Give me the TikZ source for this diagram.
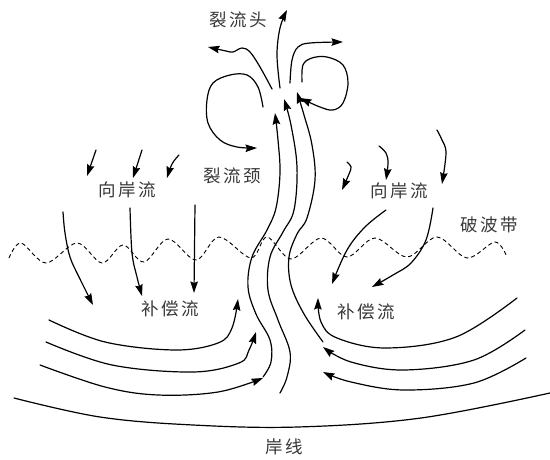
\documentclass[tikz,border=0pt]{standalone}
\usepackage{fontspec}
\newfontfamily\cjk{Noto Sans CJK SC}
\usetikzlibrary{arrows.meta}
\newcommand\gp{\hspace{2.5pt}}
\begin{document}
\begin{tikzpicture}[x=1pt,y=-1pt,
  flow/.style={line width=1.2pt,line cap=round,-{Stealth[length=11.5pt,width=7.5pt,inset=1.5pt]}},
  plain/.style={line width=1.2pt,line cap=round},
  breaker/.style={line width=0.9pt,dash pattern=on 4pt off 3pt},
  lbl/.style={font=\cjk\fontsize{17.5}{18}\selectfont,text=black!78,inner sep=0pt}]
\useasboundingbox (0,0) rectangle (550,460);

% labels
\node[lbl] (head)   at (238,20)  {裂\gp 流\gp 头};
\node[lbl] (neck)   at (232,176) {裂\gp 流\gp 颈};
\node[lbl] (onL)    at (127,190) {向\gp 岸\gp 流};
\node[lbl] (onR)    at (399,191) {向\gp 岸\gp 流};
\node[lbl] (compL)  at (170,309) {补\gp 偿\gp 流};
\node[lbl] (compR)  at (366,312) {补\gp 偿\gp 流};
\node[lbl] (surf)   at (489,225) {破\gp 波\gp 带};
\node[lbl] (shore)  at (284,447) {岸\gp 线};

% breaker zone
\draw[breaker] plot[smooth,tension=0.55] coordinates {
  (9,258) (21,243) (46,263) (77,243) (102,263) (123,245) (144,262)
  (168,239) (196,260) (219,237) (251,258) (267,237) (291,259) (321,238)
  (347,257) (375,238) (407,257) (437,237) (467,258) (495,242) (507,257)};

% shoreline
\draw[plain] plot[smooth,tension=0.6] coordinates {
  (14,398) (100,417) (193,425) (298,427) (421,418) (550,393)};

% rip current neck
\draw[flow] plot[smooth,tension=0.6] coordinates {
  (263,377) (271,362) (270,340) (256,314) (248,287) (252,257) (267,230)
  (276,208) (280,173) (278,140) (275,113)};
\draw[flow] plot[smooth,tension=0.6] coordinates {
  (280,393) (287,377) (290,352) (278,320) (268,290) (270,257) (283,232)
  (294,210) (297,167) (291,125) (284,99)};
\draw[flow] plot[smooth,tension=0.6] coordinates {
  (323,342) (304,314) (291,285) (289,257) (297,234) (307,218) (315,180)
  (312,145) (304,115) (297,92)};

% rip current head
\draw[flow] plot[smooth,tension=0.6] coordinates {
  (280,88) (277,55) (280,28) (287,10)};
\draw[flow] plot[smooth,tension=0.6] coordinates {
  (272,89) (260,67) (250,52) (242,48) (233,52) (226,51) (208,47)};
\draw[flow] plot[smooth,tension=0.6] coordinates {
  (290,83) (292,60) (298,47) (310,43) (343,42)};
\draw[flow] plot[smooth,tension=0.6] coordinates {
  (302,82) (303,65) (312,58) (327,57) (343,65) (348,83) (343,103)
  (333,110) (320,107) (300,98)};
\draw[flow] plot[smooth,tension=0.6] coordinates {
  (263,107) (258,87) (247,75) (230,75) (213,83) (207,100) (208,123)
  (220,140) (237,147) (257,148)};

% onshore flow, left
\draw[flow] (96,150) -- (87,176);
\draw[flow] (142,150) -- (133,178);
\draw[flow] plot[smooth,tension=0.6] coordinates {(179,155) (172,164) (167,178)};
\draw[flow] plot[smooth,tension=0.6] coordinates {
  (63,212) (65,233) (70,257) (79,277) (93,305)};
\draw[flow] plot[smooth,tension=0.6] coordinates {
  (130,208) (132,253) (137,277) (142,296)};
\draw[flow] (195,205) -- (194,293);

% onshore flow, right
\draw[flow] plot[smooth,tension=0.6] coordinates {
  (347,162) (351,167) (349,174) (342,190)};
\draw[flow] plot[smooth,tension=0.6] coordinates {
  (379,146) (386,153) (388,163) (386,180)};
\draw[flow] plot[smooth,tension=0.6] coordinates {
  (437,130) (442,140) (446,153) (442,184)};
\draw[flow] plot[smooth,tension=0.6] coordinates {
  (386,210) (365,227) (347,250) (332,284)};
\draw[flow] plot[smooth,tension=0.6] coordinates {
  (433,208) (426,240) (411,263) (393,275) (372,287)};

% feeder currents, left
\draw[flow] plot[smooth,tension=0.6] coordinates {
  (49,320) (105,342) (175,350) (218,343) (232,328) (238,299)};
\draw[flow] plot[smooth,tension=0.6] coordinates {
  (46,342) (112,365) (193,372) (239,363) (249,350) (256,332)};
\draw[flow] plot[smooth,tension=0.6] coordinates {
  (40,365) (105,387) (158,395) (218,392) (263,378)};

% feeder currents, right
\draw[flow] plot[smooth,tension=0.6] coordinates {
  (517,298) (456,337) (386,348) (337,338) (321,322) (318,298)};
\draw[flow] plot[smooth,tension=0.6] coordinates {
  (525,330) (474,360) (404,370) (351,362) (323,347)};
\draw[flow] plot[smooth,tension=0.6] coordinates {
  (526,358) (474,383) (404,390) (351,382) (323,372)};
\end{tikzpicture}
\end{document}
